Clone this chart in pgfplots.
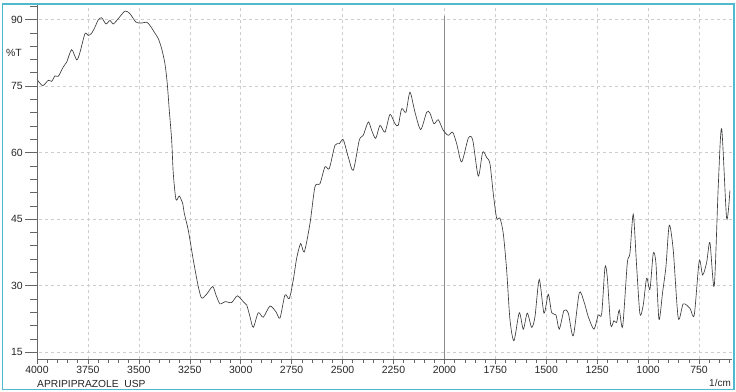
\documentclass[border=0pt]{standalone}
\usepackage{pgfplots}
\pgfplotsset{compat=1.18}
\usepackage{fontspec}
\setmainfont{Liberation Sans}
\definecolor{framec}{RGB}{80,185,205}
\definecolor{gridc}{RGB}{205,205,205}
\definecolor{curvec}{RGB}{60,60,60}
\begin{document}
\begin{tikzpicture}[x=1bp,y=1bp]
\path[use as bounding box] (-37,-31.7) rectangle (699,359.3);
\begin{axis}[
  scale only axis, width=695bp, height=354bp,
  at={(0,0)}, anchor=south west,
  x dir=reverse, xmin=588, xmax=4000, ymin=13.4, ymax=93.2,
  axis x line*=bottom, axis y line*=left,
  axis line style={-, draw=black!60, line width=0.6bp},
  xtick={750,1000,...,4000}, minor xtick={600,650,...,3950},
  ytick={15,30,...,90}, minor ytick={15,18,...,93}, yticklabels={},
  tick align=outside, major tick length=5bp, minor tick length=3.5bp,
  tick style={draw=black!60, line width=0.5bp},
  xmajorgrids, ymajorgrids,
  major grid style={gridc, dash pattern=on 3bp off 3bp, line width=0.5bp},
  /pgf/number format/assume math mode=true,
  /pgf/number format/1000 sep={},
  xticklabel style={font=\fontsize{10.5}{12}\selectfont, text=black!85, inner sep=2bp},
  clip=false,
]
\addplot[black!45, line width=0.6bp] coordinates {(2000,13.4) (2000,90.9)};
\addplot[curvec, line width=0.65bp, smooth, tension=0.45] coordinates {
(4000,76.5) (3972,75.1) (3944.5,76.3) (3927.8,76.05) (3911.6,77.3) (3895.4,77.2)
(3870.9,79.3) (3854.2,80.4) (3829.7,83.2) (3805.1,80.9) (3788.9,82.6) (3764.4,86.8)
(3748.2,86.4) (3731.5,86.9) (3715.3,88.3) (3699.1,89.9) (3682.4,90.4) (3661.3,89.0)
(3641.6,89.8) (3625.4,89.0) (3600.9,90.2) (3568.0,91.9) (3543.5,91.3) (3514.0,89.4)
(3486.0,89.2) (3461.5,89.4) (3445.3,88.65) (3420.8,86.9) (3404.5,85.7) (3387.9,83.4)
(3371.7,80.0) (3360.4,75.5) (3350.5,69.5) (3338.8,62.8) (3330.9,55.3) (3317.6,49.4)
(3301.4,50.2) (3284.7,48.5) (3276.9,46.3) (3257.3,42.5) (3232.7,35.8) (3208.2,29.8)
(3191.5,27.2) (3166.9,28.1) (3137.5,29.8) (3121.3,27.9) (3101.6,25.9) (3077.1,26.4)
(3044.2,26.2) (3016.7,27.7) (2987.3,26.4) (2970.6,25.65) (2954.4,23.0) (2938.2,20.6)
(2913.6,23.9) (2889.1,22.9) (2856.2,25.4) (2826.8,24.1) (2807.1,22.7) (2782.6,27.9)
(2761.5,27.1) (2741.8,31.3) (2725.1,36.2) (2705.5,39.5) (2687.8,37.6) (2659.8,44.0)
(2635.3,52.3) (2610.8,53.0) (2586.2,56.8) (2565.1,56.4) (2537.1,61.65) (2516.0,62.0)
(2496.4,62.9) (2471.8,59.0) (2447.3,56.0) (2417.8,62.8) (2398.2,63.9) (2373.6,66.9)
(2357.0,65.0) (2337.3,63.2) (2316.2,66.15) (2291.7,64.6) (2267.1,68.6) (2242.6,66.5)
(2226.4,66.15) (2209.7,69.9) (2188.6,69.1) (2169.0,73.6) (2144.4,69.1) (2116.4,65.2)
(2087.0,69.1) (2070.8,68.9) (2051.1,66.5) (2030.0,67.4) (2005.5,65.0) (1981.0,63.9)
(1959.4,64.6) (1939.7,62.0) (1915.2,57.9) (1882.8,63.2) (1861.2,62.9) (1833.7,54.7)
(1812.1,60.1) (1792.5,58.9) (1776.3,57.5) (1760.1,50.8) (1743.4,45.2) (1727.2,45.2)
(1711.0,41.8) (1694.3,33.5) (1678.0,22.3) (1658.4,17.6) (1632.4,23.9) (1612.7,20.2)
(1593.1,23.8) (1571.5,20.6) (1555.3,23.0) (1534.2,31.4) (1511.1,23.8) (1490.0,28.05)
(1473.3,23.9) (1452.2,23.4) (1436.0,20.2) (1412.9,24.4) (1391.8,23.8) (1367.3,18.7)
(1337.8,28.4) (1314.8,26.4) (1293.6,23.0) (1265.6,20.2) (1244.6,23.4) (1227.9,23.6)
(1211.7,34.1) (1200.4,32.0) (1183.7,21.15) (1167.5,22.1) (1154.3,21.7) (1141.5,24.5)
(1124.8,20.8) (1102.2,35.0) (1089.0,37.3) (1072.7,46.1) (1056.1,34.3) (1039.9,23.6)
(1023.7,25.65) (1007.0,31.7) (990.8,29.2) (974.6,37.3) (961.4,35.0) (946.6,22.4)
(928.5,28.6) (912.3,34.3) (896.1,43.65) (876.5,38.0) (852.0,22.7) (827.4,25.9)
(794.5,24.9) (773.4,23.4) (748.9,35.6) (732.2,32.4) (712.6,35.2) (696.4,39.7)
(675.3,29.9) (655.6,52.3) (638.9,65.4) (614.4,45.2) (598.2,51.5)
};
\end{axis}
\begin{axis}[
  scale only axis, width=695bp, height=354bp,
  at={(0,0)}, anchor=south west,
  x dir=reverse, xmin=588, xmax=4000, ymin=13.4, ymax=93.2,
  hide x axis, axis y line*=left,
  axis line style={-, draw=black!60, line width=0.6bp},
  ytick={15,30,...,90}, minor ytick={15,18,...,93},
  tick align=outside, major tick length=12bp, minor tick length=7bp,
  tick style={draw=black!60, line width=0.5bp},
  /pgf/number format/assume math mode=true,
  yticklabel style={font=\fontsize{10.5}{12}\selectfont, text=black!85, inner sep=2bp},
]
\end{axis}
\node[font=\fontsize{10.5}{12}\selectfont, text=black!85] at (-23,306.3) {\%T};
\node[font=\fontsize{10.3}{12}\selectfont, text=black!85, anchor=west, inner sep=0] at (0,-24.7) {APRIPIPRAZOLE\ \ USP};
\node[font=\fontsize{10}{12}\selectfont, text=black!85, anchor=east, inner sep=0] at (694,-23.4) {1/cm};
\draw[framec, line width=1.5bp] (-34.5,-30.2) rectangle (697,355.3);
\end{tikzpicture}
\end{document}
